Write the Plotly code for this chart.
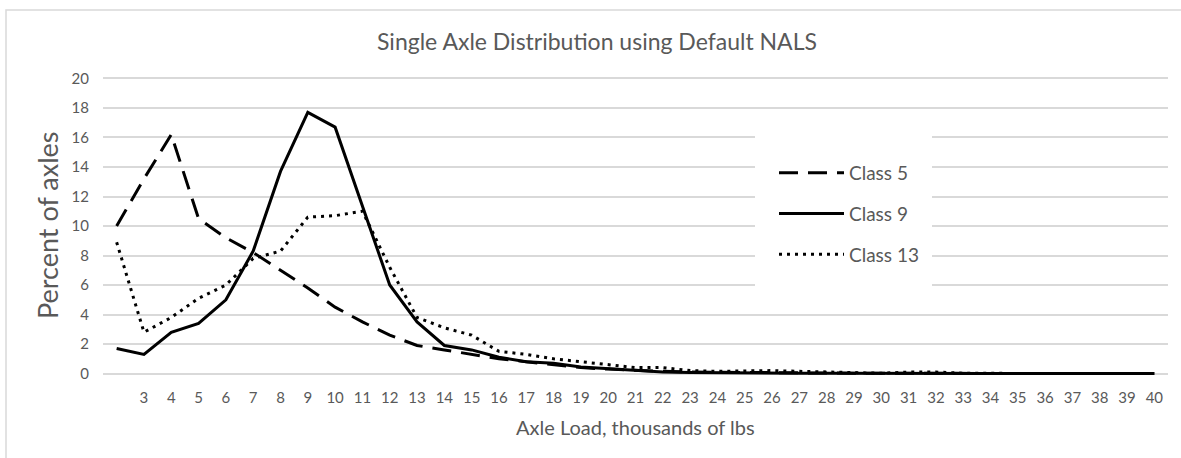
import plotly.graph_objects as go

# Axle load bins, thousands of lbs
axle_load = list(range(2, 41))
tick_vals = list(range(3, 41))
tick_text = [str(v) for v in tick_vals]

# Percent of axles per load bin
class_5 = [10.0, 13.2, 16.2, 10.5, 9.2, 8.2, 7.0, 5.8, 4.5, 3.5, 2.6, 1.9, 1.6,
           1.3, 1.0, 0.8, 0.6, 0.4, 0.3, 0.2, 0.15, 0.1, 0.08, 0.06, 0.05, 0.04,
           0.03, 0.02, 0.02, 0.01, 0.01, 0, 0, 0, 0, 0, 0, 0, 0]
class_9 = [1.7, 1.3, 2.8, 3.4, 5.0, 8.3, 13.7, 17.7, 16.7, 11.3, 6.0, 3.5, 1.9,
           1.6, 1.1, 0.8, 0.7, 0.45, 0.35, 0.2, 0.1, 0.07, 0.05, 0.04, 0.03, 0.02,
           0.02, 0.01, 0.01, 0.01, 0, 0, 0, 0, 0, 0, 0, 0, 0]
class_13 = [8.9, 2.8, 3.8, 5.1, 6.0, 7.8, 8.3, 10.6, 10.7, 11.0, 7.2, 3.8, 3.1,
            2.6, 1.5, 1.3, 1.0, 0.8, 0.6, 0.4, 0.4, 0.2, 0.15, 0.2, 0.2, 0.15,
            0.1, 0.05, 0.02, 0.1, 0.1, 0.02, 0, 0, 0, 0, 0, 0, 0]

FONT = "Lato, 'Open Sans', sans-serif"
GRAY = "#595959"
GRID = "#d9d9d9"

W, H = 1181, 458
L, R, T, B = 103, 13, 77, 83
PW, PH = W - L - R, H - T - B


def px_x(p):
    return (p - L) / PW


def px_y(p):
    return (H - B - p) / PH


fig = go.Figure()
fig.add_trace(go.Scatter(x=axle_load, y=class_5, mode="lines", name="Class 5",
                         legendgroup="c5",
                         line=dict(color="black", width=3, dash="19px,10px")))
fig.add_trace(go.Scatter(x=axle_load, y=class_9, mode="lines", name="Class 9",
                         legendgroup="c9",
                         line=dict(color="black", width=3)))
fig.add_trace(go.Scatter(x=axle_load, y=class_13, mode="lines", name="Class 13",
                         legendgroup="c13",
                         line=dict(color="black", width=3, dash="3px,5px")))

fig.update_layout(
    width=W, height=H,
    margin=dict(l=L, r=R, t=T, b=B),
    paper_bgcolor="white", plot_bgcolor="white",
    font=dict(family=FONT, color=GRAY, size=15),
    showlegend=True,
    legend=dict(x=px_x(774), y=px_y(154), xanchor="left", yanchor="top",
                bgcolor="rgba(255,255,255,0)", traceorder="grouped",
                itemwidth=65, tracegroupgap=13,
                font=dict(size=19, color=GRAY, family=FONT)),
    xaxis=dict(range=[1.5, 40.5], tickmode="array", tickvals=tick_vals,
               ticktext=tick_text, showgrid=False, zeroline=False,
               showline=False, ticks="", ticklabelstandoff=12,
               tickfont=dict(size=15, color=GRAY)),
    yaxis=dict(range=[-0.1, 20.1], tickvals=list(range(0, 21, 2)),
               showgrid=True, gridcolor=GRID, gridwidth=1.5,
               zeroline=False, showline=False, ticks="",
               ticklabelstandoff=13, tickfont=dict(size=15, color=GRAY)),
    shapes=[
        # outer chart frame
        dict(type="rect", xref="paper", yref="paper",
             x0=px_x(6), x1=px_x(1195), y0=px_y(475), y1=px_y(10),
             line=dict(color=GRID, width=1.5), fillcolor="rgba(0,0,0,0)",
             layer="below"),
        # legend backdrop over the gridlines
        dict(type="rect", xref="paper", yref="paper",
             x0=px_x(755), x1=px_x(932), y0=px_y(292), y1=px_y(130),
             line=dict(width=0), fillcolor="white", layer="above"),
    ],
    annotations=[
        dict(text="Single Axle Distribution using Default NALS",
             xref="paper", yref="paper", x=px_x(597), y=px_y(41),
             xanchor="center", yanchor="middle", showarrow=False,
             font=dict(size=23, color=GRAY, family=FONT)),
        dict(text="Percent of axles", xref="paper", yref="paper",
             x=px_x(47), y=px_y(226), xanchor="center", yanchor="middle",
             textangle=-90, showarrow=False,
             font=dict(size=27, color=GRAY, family=FONT)),
        dict(text="Axle Load, thousands of lbs", xref="paper", yref="paper",
             x=px_x(635), y=px_y(427), xanchor="center", yanchor="middle",
             showarrow=False, font=dict(size=20, color=GRAY, family=FONT)),
    ],
)

fig.write_html("out.html")
